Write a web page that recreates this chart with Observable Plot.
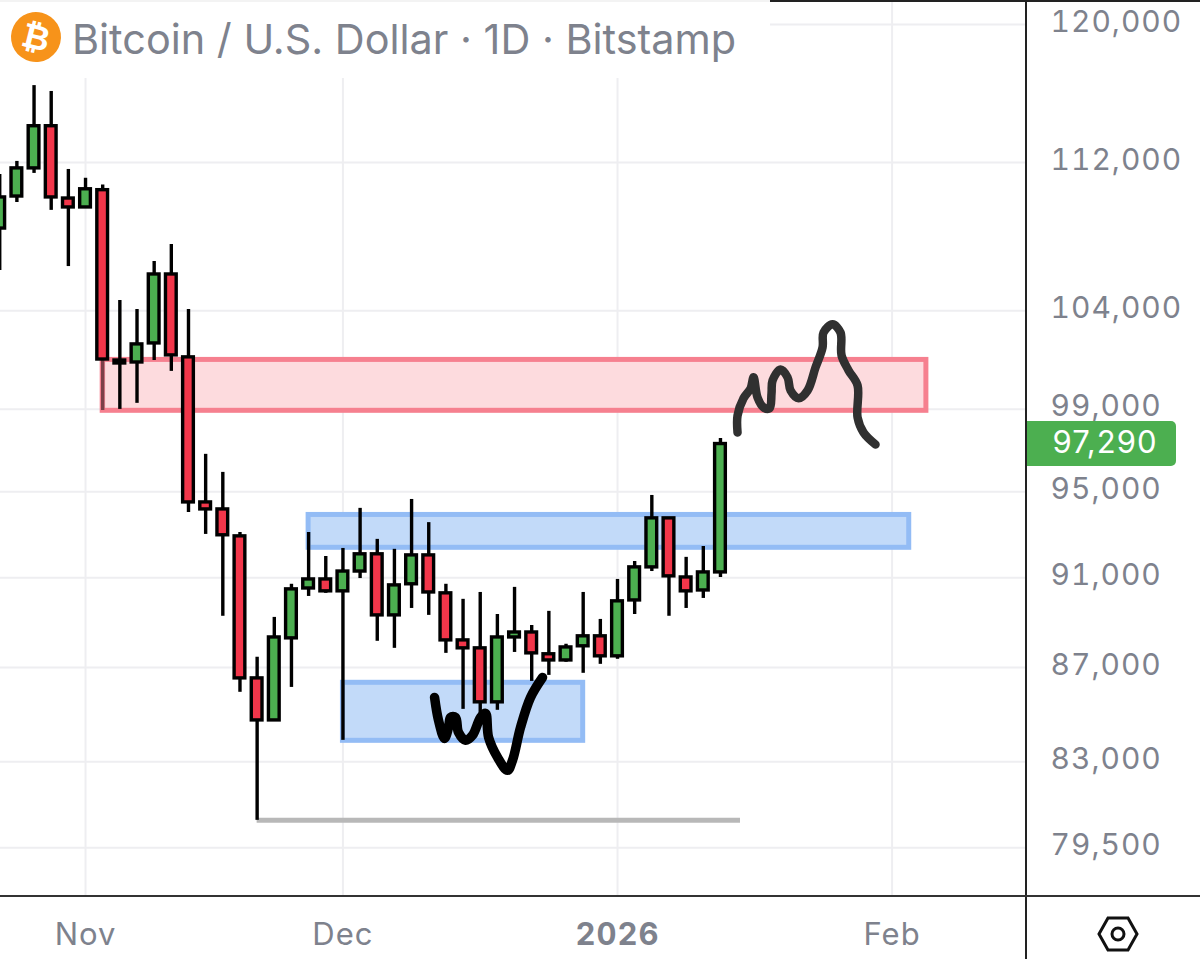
<!DOCTYPE html>
<html>
<head>
<meta charset="utf-8">
<script src="https://cdn.jsdelivr.net/npm/d3@7"></script>
<script src="https://cdn.jsdelivr.net/npm/@observablehq/plot@0.6"></script>
<style>
  html, body { margin: 0; padding: 0; background: #fff; }
  #wrap { position: relative; width: 1200px; height: 959px; overflow: hidden; font-family: Inter, sans-serif; }
  #wrap svg { display: block; }
  .lbl text { letter-spacing: 1px; }
  #titlebox { position: absolute; left: 0; top: 0; width: 770px; height: 78px; background: rgba(255,255,255,.95); }
  #logo { position: absolute; left: 11px; top: 12px; width: 50px; height: 50px; border-radius: 50%; background: #f7931a; color: #fff;
          font: bold 34px "DejaVu Sans", sans-serif; text-align: center; line-height: 50px; transform: rotate(14deg); }
  #title { position: absolute; left: 72px; top: 13px; font: 400 41.4px/52px Inter, sans-serif; color: #7e828d; white-space: nowrap; }
  #topline { position: absolute; left: 0; top: 0; width: 1200px; height: 2px; background: #222; }
  #vline { position: absolute; left: 1025px; top: 0; width: 2px; height: 959px; background: #222; }
  #hline { position: absolute; left: 0; top: 895px; width: 1200px; height: 2px; background: #333; }
  #last { position: absolute; left: 1027px; width: 149px; height: 45px; box-sizing: border-box; padding-left: 7px; background: #4caf50; border-radius: 0 5px 5px 0; color: #fff;
          font: 400 31px/41px Inter, sans-serif; letter-spacing: 1px; text-align: center; }
  #hex { position: absolute; left: 1095px; top: 914px; }
</style>
</head>
<body>
<div id="wrap"></div>
<script>
const titleText = "Bitcoin / U.S. Dollar · 1D · Bitstamp";
const lastPrice = 97290;

const dates = ["2025-10-22","2025-10-24","2025-10-26","2025-10-28","2025-10-30","2025-11-01","2025-11-03","2025-11-05","2025-11-07","2025-11-09","2025-11-11","2025-11-13","2025-11-15","2025-11-17","2025-11-19","2025-11-21","2025-11-23","2025-11-25","2025-11-27","2025-11-29","2025-12-01","2025-12-03","2025-12-05","2025-12-07","2025-12-09","2025-12-11","2025-12-13","2025-12-15","2025-12-17","2025-12-19","2025-12-21","2025-12-23","2025-12-25","2025-12-27","2025-12-29","2025-12-31","2026-01-02","2026-01-04","2026-01-06","2026-01-08","2026-01-10","2026-01-12","2026-01-14"];
const opens  = [108360,110110,111670,114050,110000,109510,110460,101440,101340,102310,105900,101600,94490,94160,92900,86530,84730,88280,90510,90920,90380,91280,92070,89300,90700,92020,90290,88190,87840,85500,88320,88540,87580,87310,87930,88370,87490,89970,91470,93740,91010,90420,91240];
const highs  = [111330,112060,116390,116050,111610,111120,110740,104530,104060,106590,107500,104060,96790,95920,93080,87450,89210,90700,93080,91970,92340,94210,92760,92300,94630,93540,90700,90020,90330,89340,90560,88850,89480,88020,90330,89120,90920,91740,94820,93740,91930,92430,97560];
const lows   = [106110,109780,111390,109350,106320,109460,98940,98990,99290,101440,100890,94020,92990,89260,85930,80600,84730,86140,90150,90290,83890,90960,88150,87840,89610,89300,87620,85200,85030,85160,87660,86400,86660,87230,86750,87140,87360,89340,91280,89260,89610,90060,91010];
const closes = [110060,111670,114050,110060,109510,110510,101490,101290,102260,105900,101700,94490,94160,92950,86530,84730,88320,90470,90920,90380,91280,92070,89300,90650,92020,90330,88190,87840,85500,88320,88540,87620,87310,87880,88370,87490,89930,91470,93740,91060,90380,91240,97290];

const zoneNames = ["supply","upper demand","lower demand"];
const zoneStart = ["2025-11-03","2025-11-27","2025-12-01"];
const zoneEnd   = ["2026-02-07","2026-02-05","2025-12-29"];
const zoneTop   = [101470,93900,86340];
const zoneBottom= [98920,92370,83870];
const zoneFill  = ["#fddbde","#c2daf9","#c2daf9"];
const zoneLine  = ["#f6808f","#93bcf5","#93bcf5"];

const lowLineDates = ["2025-11-21","2026-01-16T08:00Z"];
const lowLinePrice = 80600;

const epoch = Date.UTC(2025,10,1);
const dipDays   = [40.68,41.14,41.84,42.31,42.54,43.12,43.47,44.29,45.10,46.04,46.62,46.97,48.02,49.18,49.77,50.70,51.86,53.26];
const dipPrices = [85710,84730,83970,84440,84860,84860,84220,83890,84100,84860,85030,84020,83180,82640,83060,84440,85710,86570];
const pathDays   = [75.99,75.99,76.69,77.51,77.86,78.32,79.02,79.72,79.95,80.07,81.0,81.82,82.17,83.1,84.15,85.08,85.9,86.01,87.06,87.99,88.11,88.93,89.98,89.98,90.68,92.07];
const pathPrices = [97850,98690,99540,100030,100590,99580,99090,99040,99780,100430,100990,100590,99930,99540,99930,101090,102110,102870,103290,102870,101700,100940,100180,98590,97850,97270];

const yTicks = [120000,112000,104000,99000,95000,91000,87000,83000,79500];
const monthTicks = ["2025-11-01","2025-12-01","2026-02-03"];
const monthLabels = ["Nov","Dec","Feb"];
const yearTick = ["2026-01-02"];
const yearLabel = ["2026"];

const parse = s => new Date(s);
const candles = dates.map((d,i) => ({date: parse(d), open: opens[i], high: highs[i], low: lows[i], close: closes[i]}));
const zones = zoneNames.map((n,i) => ({name:n, x1:parse(zoneStart[i]), x2:parse(zoneEnd[i]), y1:zoneBottom[i], y2:zoneTop[i], fill:zoneFill[i], stroke:zoneLine[i]}));
const dip  = dipDays.map((d,i) => ({x:new Date(epoch+d*864e5), y:dipPrices[i]}));
const path = pathDays.map((d,i) => ({x:new Date(epoch+d*864e5), y:pathPrices[i]}));
const halfBody = 15*36e5;
const gridColor = "#eeeef1", textColor = "#7e828d";

const chart = Plot.plot({
  width: 1200, height: 959,
  marginLeft: 0, marginTop: 0, marginRight: 174, marginBottom: 63,
  x: {type:"utc", domain:[new Date("2025-10-22T02:10Z"), new Date("2026-02-18T16:00Z")], range:[0,1026]},
  y: {type:"log", domain:[77588,121451], range:[896,0]},
  style: {fontFamily:"Inter, sans-serif"},
  marks: [
    Plot.gridY(yTicks, {stroke:gridColor, strokeOpacity:1, strokeWidth:2}),
    Plot.gridX([...monthTicks,...yearTick].map(parse), {stroke:gridColor, strokeOpacity:1, strokeWidth:2}),
    Plot.rect(zones, {x1:"x1", x2:"x2", y1:"y1", y2:"y2", fill:"fill", stroke:"stroke", strokeWidth:5}),
    Plot.ruleY([lowLinePrice], {x1:parse(lowLineDates[0]), x2:parse(lowLineDates[1]), stroke:"#b8b8b8", strokeWidth:5}),
    Plot.ruleX(candles, {x:"date", y1:"low", y2:"high", stroke:"#000", strokeWidth:3.4}),
    Plot.ruleX(zones.slice(0,1), {x:"x1", y1:"y1", y2:"y2", stroke:"stroke", strokeWidth:5, strokeOpacity:0.5}),
    Plot.rect(candles, {
      x1:d=>new Date(+d.date-halfBody), x2:d=>new Date(+d.date+halfBody),
      y1:"open", y2:"close",
      fill:d=>d.close>=d.open?"#4caf50":"#f2364a",
      stroke:"#000", strokeWidth:3.4
    }),
    Plot.line(dip, {x:"x", y:"y", stroke:"#000", strokeWidth:9.5, curve:"catmull-rom", strokeLinecap:"round"}),
    Plot.line(path, {x:"x", y:"y", stroke:"#303030", strokeWidth:8.5, curve:"catmull-rom", strokeLinecap:"round"}),
    Plot.axisY(yTicks, {anchor:"right", tickSize:0, tickPadding:24, dy:-2.5, tickFormat:d3.format(","), fontSize:30, fill:textColor, label:null, className:"lbl"}),
    Plot.axisX(monthTicks.map(parse), {anchor:"bottom", tickSize:0, tickPadding:26, tickFormat:d=>monthLabels[monthTicks.findIndex(s=>+parse(s)===+d)], fontSize:31, fill:textColor, label:null, className:"lbl"}),
    Plot.axisX(yearTick.map(parse), {anchor:"bottom", tickSize:0, tickPadding:26, tickFormat:()=>yearLabel[0], fontSize:31, fontWeight:"bold", fill:textColor, label:null, className:"lbl"})
  ]
});

const wrap = document.getElementById("wrap");
wrap.appendChild(chart);

function add(id, text) {
  const el = document.createElement("div");
  el.id = id;
  if (text) el.textContent = text;
  wrap.appendChild(el);
  return el;
}
add("topline");
add("titlebox");
add("logo", "₿");
add("title", titleText);
add("vline");
add("hline");
const last = add("last", d3.format(",")(lastPrice));
last.style.top = (chart.scale("y").apply(lastPrice) - 22.5) + "px";
const hex = document.createElement("div");
hex.id = "hex";
hex.innerHTML = '<svg width="46" height="40" viewBox="0 0 46 40"><polygon points="4,20 13,4 33,4 42,20 33,36 13,36" fill="none" stroke="#111" stroke-width="3"/><circle cx="23" cy="20" r="6" fill="none" stroke="#111" stroke-width="3"/></svg>';
wrap.appendChild(hex);
</script>
</body>
</html>
